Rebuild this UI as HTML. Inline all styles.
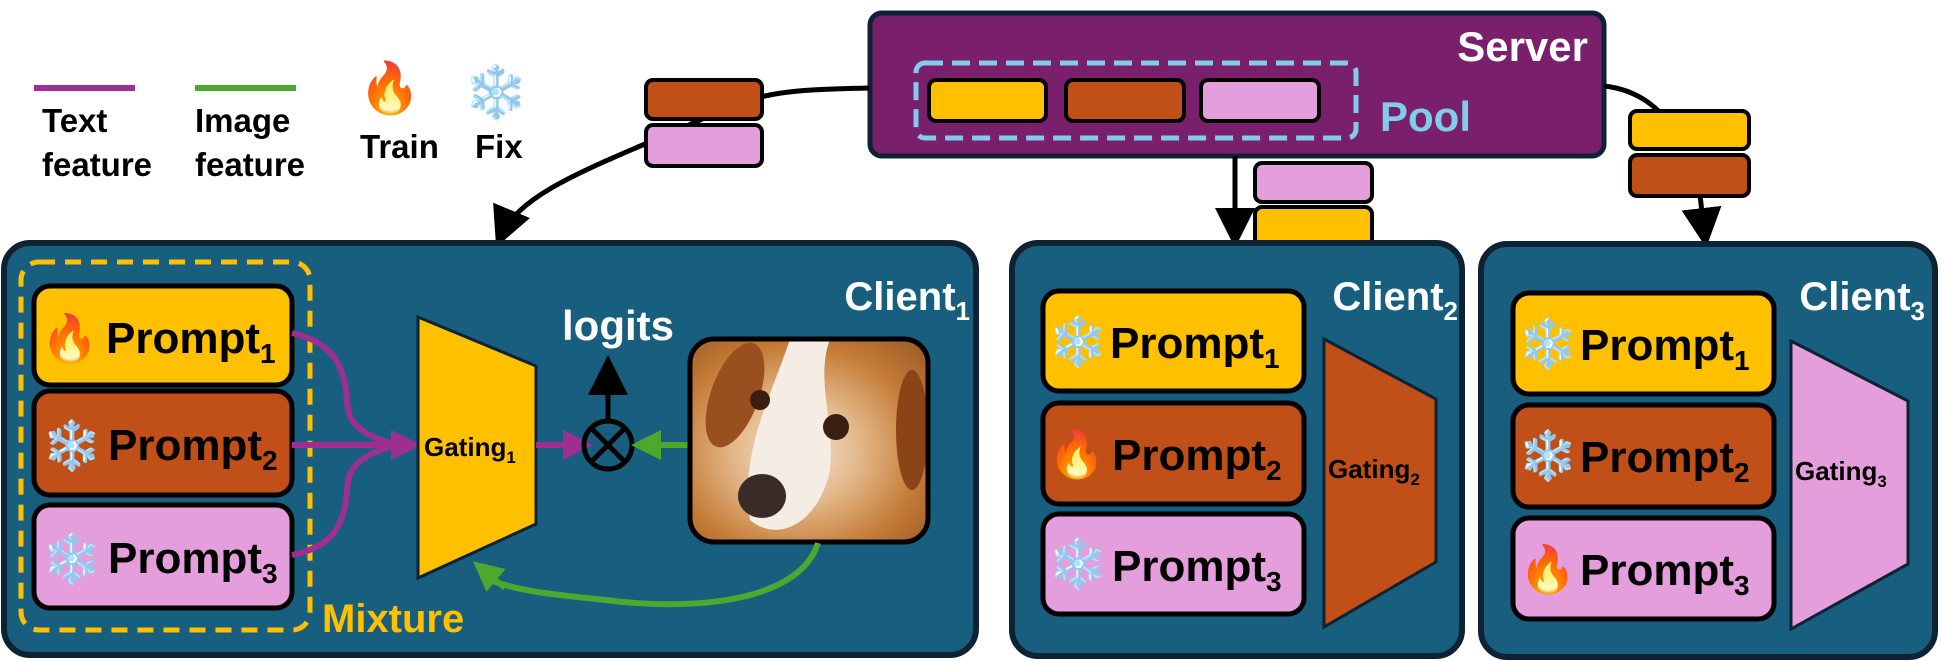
<!DOCTYPE html>
<html><head><meta charset="utf-8"><style>
html,body{margin:0;padding:0;background:#fff;}
svg{display:block;}
text{font-family:"Liberation Sans Narrow","Liberation Sans","DejaVu Sans",sans-serif;font-weight:bold;}
</style></head><body>
<svg width="1941" height="661" viewBox="0 0 1941 661" xmlns="http://www.w3.org/2000/svg">
<defs>
<marker id="ab" markerWidth="8" markerHeight="8" refX="6" refY="4" orient="auto" markerUnits="strokeWidth"><path d="M0,0 L8,4 L0,8 Z" fill="#000"/></marker>
<marker id="am" markerWidth="5" markerHeight="5" refX="3.5" refY="2.5" orient="auto" markerUnits="strokeWidth"><path d="M0,0 L5,2.5 L0,5 Z" fill="#9E2F92"/></marker>
<marker id="ag" markerWidth="5" markerHeight="5" refX="3.5" refY="2.5" orient="auto" markerUnits="strokeWidth"><path d="M0,0 L5,2.5 L0,5 Z" fill="#4EA72E"/></marker>
<radialGradient id="dog" cx="0.45" cy="0.55" r="0.75">
<stop offset="0" stop-color="#f3e6d6"/><stop offset="0.35" stop-color="#e3b88a"/><stop offset="0.7" stop-color="#c47a35"/><stop offset="1" stop-color="#9a5a2a"/></radialGradient>
<clipPath id="dc"><rect x="690" y="339" width="238" height="203" rx="24"/></clipPath>
</defs>
<!-- legend -->
<line x1="34" y1="88" x2="135" y2="88" stroke="#9E2F92" stroke-width="6"/>
<line x1="195" y1="88" x2="296" y2="88" stroke="#4EA72E" stroke-width="6"/>
<text x="42" y="132" font-size="33" fill="#000">Text</text>
<text x="42" y="176" font-size="33" fill="#000">feature</text>
<text x="195" y="132" font-size="33" fill="#000">Image</text>
<text x="195" y="176" font-size="33" fill="#000">feature</text>
<text x="390" y="105" font-size="50" text-anchor="middle">🔥</text>
<text x="496" y="110" font-size="52" text-anchor="middle" fill="#9fd3f0">❄️</text>
<text x="360" y="158" font-size="33" fill="#000">Train</text>
<text x="475" y="158" font-size="33" fill="#000">Fix</text>

<!-- server -->
<rect x="870" y="13" width="734" height="143" rx="12" fill="#7A1F6B" stroke="#0E2233" stroke-width="5"/>
<rect x="916" y="63" width="440" height="75" rx="9" fill="none" stroke="#7FCDEB" stroke-width="5" stroke-dasharray="18,9"/>
<rect x="929" y="80" width="117" height="41" rx="7" fill="#FFC000" stroke="#000" stroke-width="4"/>
<rect x="1066" y="80" width="118" height="41" rx="7" fill="#C05017" stroke="#000" stroke-width="4"/>
<rect x="1201" y="80" width="118" height="41" rx="7" fill="#E49EDC" stroke="#000" stroke-width="4"/>
<text x="1588" y="61" font-size="42" fill="#fff" text-anchor="end">Server</text>
<text x="1380" y="131" font-size="42" fill="#7FCDEB">Pool</text>

<!-- connectors from server -->
<path d="M870,88 C780,90 760,92 700,120 C600,165 520,190 500,238" fill="none" stroke="#000" stroke-width="5" marker-end="url(#ab)"/>
<rect x="646" y="80" width="116" height="39" rx="7" fill="#C05017" stroke="#000" stroke-width="4"/>
<rect x="646" y="125" width="116" height="41" rx="7" fill="#E49EDC" stroke="#000" stroke-width="4"/>
<path d="M1235,156 L1235,238" fill="none" stroke="#000" stroke-width="5" marker-end="url(#ab)"/>
<rect x="1255" y="163" width="117" height="39" rx="7" fill="#E49EDC" stroke="#000" stroke-width="4"/>
<rect x="1255" y="207" width="117" height="40" rx="7" fill="#FFC000" stroke="#000" stroke-width="4"/>
<path d="M1604,86 C1640,90 1660,110 1670,125" fill="none" stroke="#000" stroke-width="5"/>
<path d="M1700,195 L1705,238" fill="none" stroke="#000" stroke-width="5" marker-end="url(#ab)"/>
<rect x="1630" y="111" width="119" height="38" rx="7" fill="#FFC000" stroke="#000" stroke-width="4"/>
<rect x="1630" y="155" width="119" height="41" rx="7" fill="#C05017" stroke="#000" stroke-width="4"/>

<!-- client1 -->
<rect x="4" y="243" width="972" height="412" rx="26" fill="#185E7E" stroke="#0E2233" stroke-width="6"/>
<rect x="21" y="262" width="289" height="368" rx="18" fill="none" stroke="#FFC000" stroke-width="5" stroke-dasharray="16,10"/>
<rect x="34" y="286" width="258" height="99" rx="16" fill="#FFC000" stroke="#000" stroke-width="5"/>
<rect x="34" y="391" width="258" height="104" rx="16" fill="#C05017" stroke="#000" stroke-width="5"/>
<rect x="34" y="505" width="258" height="103" rx="16" fill="#E49EDC" stroke="#000" stroke-width="5"/>
<text x="70" y="354" font-size="46" text-anchor="middle">🔥</text>
<text x="72" y="462" font-size="48" text-anchor="middle" fill="#9fd3f0">❄️</text>
<text x="72" y="575" font-size="48" text-anchor="middle" fill="#9fd3f0">❄️</text>
<text x="106" y="353" font-size="44" fill="#000">Prompt<tspan font-size="28" dy="10">1</tspan></text>
<text x="108" y="460" font-size="44" fill="#000">Prompt<tspan font-size="28" dy="10">2</tspan></text>
<text x="108" y="573" font-size="44" fill="#000">Prompt<tspan font-size="28" dy="10">3</tspan></text>
<text x="322" y="632" font-size="40" fill="#FFC000">Mixture</text>
<text x="970" y="310" font-size="40" fill="#fff" text-anchor="end">Client<tspan font-size="26" dy="10">1</tspan></text>
<path d="M292,333 C345,345 345,380 348,410 C352,430 380,445 412,445" fill="none" stroke="#9E2F92" stroke-width="6" marker-end="url(#am)"/>
<path d="M292,445 L412,445" fill="none" stroke="#9E2F92" stroke-width="6" marker-end="url(#am)"/>
<path d="M292,555 C345,545 345,510 348,480 C352,460 380,445 412,445" fill="none" stroke="#9E2F92" stroke-width="6" marker-end="url(#am)"/>
<polygon points="418,317 536,366 536,524 418,578" fill="#FFC000" stroke="#0E2233" stroke-width="3"/>
<text x="424" y="456" font-size="26" fill="#000">Gating<tspan font-size="17" dy="7">1</tspan></text>
<path d="M536,445 L584,445" stroke="#9E2F92" stroke-width="6" marker-end="url(#am)"/>
<circle cx="608" cy="445" r="24" fill="none" stroke="#000" stroke-width="5"/>
<line x1="591" y1="428" x2="625" y2="462" stroke="#000" stroke-width="5"/>
<line x1="625" y1="428" x2="591" y2="462" stroke="#000" stroke-width="5"/>
<path d="M608,421 L608,365" stroke="#000" stroke-width="5" marker-end="url(#ab)"/>
<text x="618" y="340" font-size="42" fill="#fff" text-anchor="middle">logits</text>
<path d="M689,445 L640,445" stroke="#4EA72E" stroke-width="6" marker-end="url(#ag)"/>
<g clip-path="url(#dc)">
<rect x="690" y="339" width="238" height="203" fill="url(#dog)"/>
<ellipse cx="735" cy="395" rx="24" ry="55" fill="#9a4f1f" transform="rotate(20 735 395)"/>
<ellipse cx="912" cy="430" rx="16" ry="60" fill="#8a4418"/>
<path d="M790,339 C770,400 740,450 750,520 C780,545 820,520 830,470 C835,420 815,380 830,339 Z" fill="#f5ede3"/>
<circle cx="760" cy="400" r="10" fill="#3a1e10"/>
<circle cx="836" cy="427" r="13" fill="#3a1e10"/>
<ellipse cx="762" cy="496" rx="24" ry="22" fill="#3b2b28"/>
</g>
<rect x="690" y="339" width="238" height="203" rx="24" fill="none" stroke="#000" stroke-width="5"/>
<path d="M818,543 C800,600 700,612 605,600 C560,595 520,592 490,580" fill="none" stroke="#4EA72E" stroke-width="6"/>
<path d="M505,588 L480,567" stroke="#4EA72E" stroke-width="6" marker-end="url(#ag)"/>

<!-- client2 -->
<rect x="1012" y="243" width="450" height="413" rx="26" fill="#185E7E" stroke="#0E2233" stroke-width="6"/>
<rect x="1043" y="291" width="261" height="100" rx="16" fill="#FFC000" stroke="#000" stroke-width="5"/>
<rect x="1043" y="403" width="261" height="101" rx="16" fill="#C05017" stroke="#000" stroke-width="5"/>
<rect x="1043" y="514" width="261" height="100" rx="16" fill="#E49EDC" stroke="#000" stroke-width="5"/>
<text x="1078" y="358" font-size="48" text-anchor="middle" fill="#9fd3f0">❄️</text>
<text x="1077" y="470" font-size="46" text-anchor="middle">🔥</text>
<text x="1078" y="580" font-size="48" text-anchor="middle" fill="#9fd3f0">❄️</text>
<text x="1110" y="358" font-size="44" fill="#000">Prompt<tspan font-size="28" dy="10">1</tspan></text>
<text x="1112" y="470" font-size="44" fill="#000">Prompt<tspan font-size="28" dy="10">2</tspan></text>
<text x="1112" y="581" font-size="44" fill="#000">Prompt<tspan font-size="28" dy="10">3</tspan></text>
<text x="1458" y="310" font-size="40" fill="#fff" text-anchor="end">Client<tspan font-size="26" dy="10">2</tspan></text>
<polygon points="1324,339 1436,399 1436,562 1324,627" fill="#C05017" stroke="#0E2233" stroke-width="3"/>
<text x="1328" y="478" font-size="26" fill="#000">Gating<tspan font-size="17" dy="7">2</tspan></text>

<!-- client3 -->
<rect x="1481" y="244" width="454" height="413" rx="26" fill="#185E7E" stroke="#0E2233" stroke-width="6"/>
<rect x="1513" y="293" width="261" height="101" rx="16" fill="#FFC000" stroke="#000" stroke-width="5"/>
<rect x="1513" y="405" width="261" height="102" rx="16" fill="#C05017" stroke="#000" stroke-width="5"/>
<rect x="1513" y="518" width="261" height="101" rx="16" fill="#E49EDC" stroke="#000" stroke-width="5"/>
<text x="1548" y="360" font-size="48" text-anchor="middle" fill="#9fd3f0">❄️</text>
<text x="1548" y="472" font-size="48" text-anchor="middle" fill="#9fd3f0">❄️</text>
<text x="1548" y="585" font-size="46" text-anchor="middle">🔥</text>
<text x="1580" y="360" font-size="44" fill="#000">Prompt<tspan font-size="28" dy="10">1</tspan></text>
<text x="1580" y="472" font-size="44" fill="#000">Prompt<tspan font-size="28" dy="10">2</tspan></text>
<text x="1580" y="585" font-size="44" fill="#000">Prompt<tspan font-size="28" dy="10">3</tspan></text>
<text x="1925" y="310" font-size="40" fill="#fff" text-anchor="end">Client<tspan font-size="26" dy="10">3</tspan></text>
<polygon points="1791,341 1908,401 1908,564 1791,629" fill="#E49EDC" stroke="#0E2233" stroke-width="3"/>
<text x="1795" y="480" font-size="26" fill="#000">Gating<tspan font-size="17" dy="7">3</tspan></text>
</svg>
</body></html>
